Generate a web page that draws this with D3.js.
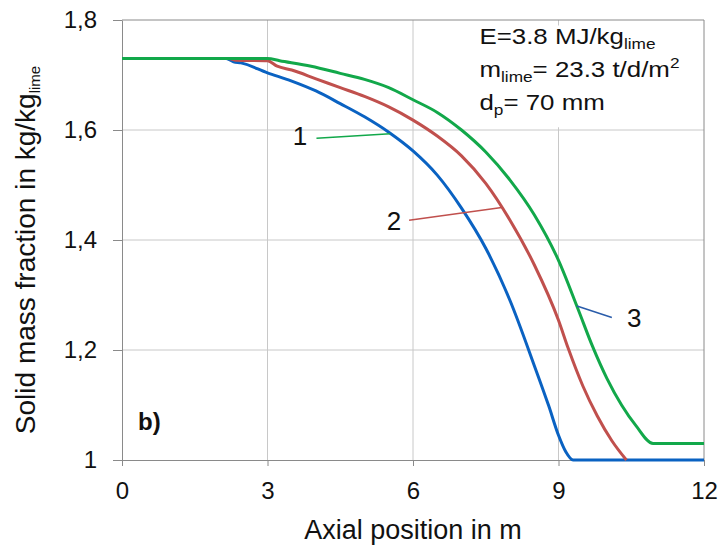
<!DOCTYPE html>
<html>
<head>
<meta charset="utf-8">
<script src="https://cdn.jsdelivr.net/npm/d3@7/dist/d3.min.js"></script>
<style>
  body { margin: 0; background: #fff; }
  svg { font-family: "Liberation Sans", Arial, sans-serif; }
</style>
</head>
<body>
<div id="chart"></div>
<script>
// ---- data ----
var xTicks = [0, 3, 6, 9, 12];
var yTicks = [1, 1.2, 1.4, 1.6, 1.8];
var yTickLabels = ['1', '1,2', '1,4', '1,6', '1,8'];

// curve 1 (blue)
var curve1 = [[0,1.730],[2.15,1.730],[2.3,1.724],[2.45,1.722],[3,1.704],[3.5,1.689],[4,1.671],
  [4.5,1.648],[5,1.624],[5.5,1.596],[6,1.562],[6.5,1.518],[7,1.458],[7.5,1.385],[8,1.290],
  [8.5,1.172],[8.8,1.098],[9.0,1.045],[9.15,1.015],[9.3,1.0],[12,1.0]];
// curve 2 (red)
var curve2 = [[0,1.730],[2.2,1.730],[2.35,1.727],[3.0,1.726],[3.2,1.716],[3.5,1.709],[4,1.693],
  [4.5,1.677],[5,1.661],[5.5,1.642],[6,1.618],[6.5,1.589],[7,1.553],[7.5,1.503],[8,1.436],
  [8.5,1.355],[9,1.254],[9.2,1.203],[9.5,1.135],[9.8,1.080],[10.1,1.035],[10.4,1.0]];
// curve 3 (green)
var curve3 = [[0,1.730],[3.0,1.730],[3.25,1.726],[3.9,1.716],[4.5,1.703],[5,1.692],[5.5,1.677],
  [6,1.655],[6.5,1.632],[7,1.600],[7.5,1.560],[8,1.509],[8.5,1.446],[9,1.363],[9.4,1.275],
  [9.7,1.207],[10,1.148],[10.3,1.100],[10.6,1.062],[10.95,1.030],[12,1.030]];

var curveColors = ['#0a62c2', '#c0504d', '#12a84a'];

// curve labels: text position and leader line (data units)
var labelNames = ['1', '2', '3'];
var labelPos = [[3.67, 1.573], [5.61, 1.418], [10.56, 1.242]];
var leaderFrom = [[4.01, 1.585], [5.92, 1.436], [9.38, 1.280]];
var leaderTo = [[5.53, 1.593], [7.83, 1.459], [10.10, 1.259]];
var leaderColors = ['#12a84a', '#c0504d', '#2a5caa'];

var width = 723, height = 546;

var svg = d3.select('#chart')
  .append('svg')
  .attr('width', width)
  .attr('height', height);

var x = d3.scaleLinear().domain([0, 12]).range([122, 704]);
var y = d3.scaleLinear().domain([1, 1.8]).range([460, 20]);

// gridlines
svg.append('g')
  .selectAll('line.vgrid')
  .data(xTicks.slice(1, -1))
  .enter()
  .append('line')
  .attr('x1', d => x(d)).attr('x2', d => x(d))
  .attr('y1', y(1.8)).attr('y2', y(1))
  .style('stroke', '#c8c8c8').style('stroke-width', 1);

svg.append('g')
  .selectAll('line.hgrid')
  .data(yTicks.slice(1, -1))
  .enter()
  .append('line')
  .attr('x1', x(0)).attr('x2', x(12))
  .attr('y1', d => y(d)).attr('y2', d => y(d))
  .style('stroke', '#c8c8c8').style('stroke-width', 1);

// plot border (top, right)
svg.append('path')
  .attr('d', `M${x(0)},${y(1.8)}H${x(12)}V${y(1)}`)
  .style('fill', 'none')
  .style('stroke', '#8a8a8a')
  .style('stroke-width', 1);

// axes
var xAxis = svg.append('g')
  .attr('transform', `translate(0,${y(1)})`)
  .call(d3.axisBottom(x).tickValues(xTicks).tickSize(6).tickPadding(16).tickSizeOuter(0));

var yAxis = svg.append('g')
  .attr('transform', `translate(${x(0)},0)`)
  .call(d3.axisLeft(y).tickValues(yTicks)
    .tickFormat((d, i) => yTickLabels[i]).tickSize(9).tickPadding(16).tickSizeOuter(0));

[xAxis, yAxis].forEach(function(a) {
  a.select('.domain').style('stroke', '#8a8a8a');
  a.selectAll('.tick line').style('stroke', '#8a8a8a');
  a.selectAll('.tick text')
    .style('font-size', '24px')
    .style('fill', '#111')
    .style('font-family', '"Liberation Sans", Arial, sans-serif');
});

// white box behind the parameter text
svg.append('rect')
  .attr('x', x(7.2)).attr('y', y(1.79))
  .attr('width', x(12) - x(7.2) - 1)
  .attr('height', y(1.605) - y(1.79))
  .style('fill', '#fff');

// curves
var line = d3.line()
  .x(d => x(d[0]))
  .y(d => y(d[1]))
  .curve(d3.curveMonotoneX);

[curve1, curve2, curve3].forEach(function(c, i) {
  svg.append('path')
    .datum(c)
    .attr('d', line)
    .style('fill', 'none')
    .style('stroke', curveColors[i])
    .style('stroke-width', 3)
    .style('stroke-linejoin', 'round');
});

// leader lines + labels
labelNames.forEach(function(name, i) {
  svg.append('line')
    .attr('x1', x(leaderFrom[i][0])).attr('y1', y(leaderFrom[i][1]))
    .attr('x2', x(leaderTo[i][0])).attr('y2', y(leaderTo[i][1]))
    .style('stroke', leaderColors[i])
    .style('stroke-width', 1.5);
  svg.append('text')
    .attr('x', x(labelPos[i][0])).attr('y', y(labelPos[i][1]))
    .attr('text-anchor', 'middle')
    .style('font-size', '26px')
    .style('fill', '#111')
    .text(name);
});

// "b)"
svg.append('text')
  .attr('x', x(0.33)).attr('y', y(1.055))
  .style('font-size', '24px')
  .style('font-weight', 'bold')
  .style('fill', '#111')
  .text('b)');

// parameter text (stretched a bit wider, as in the original)
var info = svg.append('g')
  .attr('transform', `translate(${x(7.37)},0) scale(1.15,1)`)
  .style('font-size', '22.5px')
  .style('fill', '#111');

var t1 = info.append('text').attr('y', y(1.7555));
t1.append('tspan').text('E=3.8 MJ/kg');
t1.append('tspan').attr('dy', 5).style('font-size', '15px').text('lime');

var t2 = info.append('text').attr('y', y(1.6955));
t2.append('tspan').text('m');
t2.append('tspan').attr('dy', 5).style('font-size', '15px').text('lime');
t2.append('tspan').attr('dy', -5).text('= 23.3 t/d/m');
t2.append('tspan').attr('dy', -9).style('font-size', '15px').text('2');

var t3 = info.append('text').attr('y', y(1.6364));
t3.append('tspan').text('d');
t3.append('tspan').attr('dy', 5).style('font-size', '15px').text('p');
t3.append('tspan').attr('dy', -5).text('= 70 mm');

// axis titles
svg.append('text')
  .attr('x', (x(0) + x(12)) / 2)
  .attr('y', 539)
  .attr('text-anchor', 'middle')
  .style('font-size', '27px')
  .style('fill', '#111')
  .text('Axial position in m');

var yTitle = svg.append('text')
  .attr('transform', `translate(35,${(y(1) + y(1.8)) / 2 + 10}) rotate(-90)`)
  .attr('text-anchor', 'middle')
  .style('font-size', '28px')
  .style('fill', '#111');
yTitle.append('tspan').text('Solid mass fraction in kg/kg');
yTitle.append('tspan').attr('dy', 5).style('font-size', '15px').text('lime');
</script>
</body>
</html>
